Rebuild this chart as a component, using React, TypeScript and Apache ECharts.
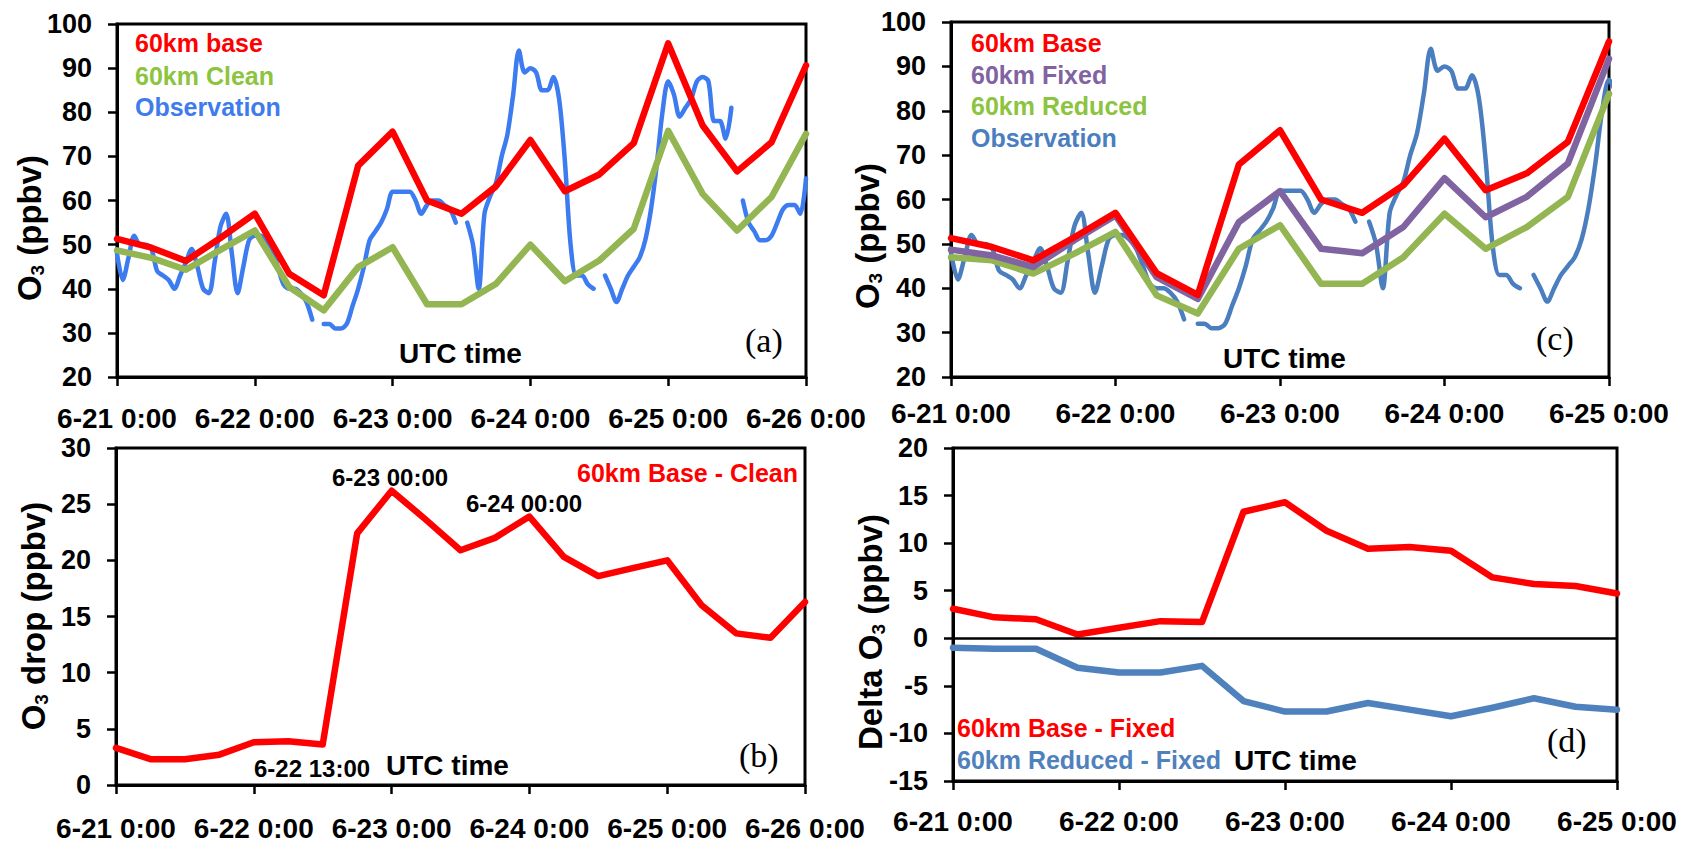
import React, { useEffect, useRef } from "react";
import * as echarts from "echarts";

const FONT = "'Liberation Sans', Arial, Helvetica, sans-serif";
const SERIF = "'Liberation Serif', 'Times New Roman', serif";

// x positions (hours after 6-21 0:00)
const hoursAB = [0, 6, 12, 18, 24, 30, 36, 42, 48, 54, 60, 66, 72, 78, 84, 90, 96, 102, 108, 114, 120];
const hoursCD = [0, 6, 12, 18, 24, 30, 36, 42, 48, 54, 60, 66, 72, 78, 84, 90, 96];
const tickLabelsAB = ["6-21 0:00", "6-22 0:00", "6-23 0:00", "6-24 0:00", "6-25 0:00", "6-26 0:00"];
const tickLabelsCD = ["6-21 0:00", "6-22 0:00", "6-23 0:00", "6-24 0:00", "6-25 0:00"];

// panel (a)
const base60 = [51.3, 49.3, 46.3, 51.5, 57.0, 43.4, 38.5, 67.9, 75.6, 60.0, 57.0, 63.2, 73.7, 62.1, 65.9, 73.0, 95.6, 77.0, 66.6, 73.2, 90.6];
const clean60 = [48.7, 47.0, 44.3, 48.8, 53.2, 40.4, 35.1, 44.9, 49.4, 36.5, 36.5, 41.1, 50.0, 41.7, 46.4, 53.6, 75.8, 61.5, 53.2, 60.8, 75.1];
// hourly observation from 6-21 0:00 (null = missing)
const observation: (number | null)[] = [
  48, 42, 47, 52, 50, 50, 49, 44, 43, 42, 40, 43, 46, 49, 45, 40, 39, 46, 54, 57, 48, 39, 45, 51,
  52, 52, 51, 49, 45, 41, 40, 40, 39, 37, 33, null, 32, 32, 31, 31, 32, 36, 40, 45, 51, 53, 55, 58,
  62, 62, 62, 62, 60, 57, 59, 60, 60, 59, 58, 55, null, 55, 50, 40, 57, 61, 64, 70, 75, 84, 94, 89,
  90, 89, 85, 85, 88, 83, 69, 50, 43, 43, 41, 40, null, 43, 40, 37, 40, 43, 45, 47, 51, 58, 68, 80,
  87, 84, 79, 81, 83, 87, 88, 87, 78, 78, 74, 81, null, 60, 55, 53, 51, 51, 52, 55, 58, 59, 59, 57,
  65,
];
// panel (b)
const dropBaseClean = [3.3, 2.3, 2.3, 2.7, 3.8, 3.9, 3.6, 22.4, 26.2, 23.6, 20.9, 22.0, 23.9, 20.3, 18.6, 19.3, 20.0, 16.0, 13.5, 13.1, 16.3];
// panel (c)
const baseC = [51.3, 49.3, 46.3, 51.5, 57.0, 43.4, 38.5, 67.9, 75.6, 60.0, 57.0, 63.2, 73.7, 62.1, 65.9, 73.0, 95.6];
const fixed60 = [48.7, 47.4, 44.8, 50.8, 56.4, 42.5, 37.6, 54.9, 61.9, 48.9, 47.9, 53.8, 64.8, 56.0, 60.6, 68.1, 91.7];
const reduced60 = [47.0, 46.3, 43.3, 47.8, 52.7, 38.4, 34.3, 48.9, 54.2, 41.0, 41.0, 47.0, 56.8, 48.9, 53.8, 60.6, 83.8];
// panel (d)
const deltaBaseFixed = [3.1, 2.2, 2.0, 0.4, 1.1, 1.8, 1.7, 13.3, 14.3, 11.3, 9.4, 9.6, 9.2, 6.4, 5.7, 5.5, 4.7];
const deltaReducedFixed = [-1.0, -1.1, -1.1, -3.1, -3.6, -3.6, -2.9, -6.6, -7.7, -7.7, -6.8, -7.5, -8.2, -7.3, -6.3, -7.2, -7.5];

const RED = "#FF0000";
const GREEN = "#93B552";
const PURPLE = "#8064A2";
const BLUE_A = "#3C7BF0";
const BLUE_C = "#4A7EBF";
const MW = 6.5;
const OW = 4.5;

const pairs = (h: number[], v: number[]) => h.map((x, i) => [x, v[i]]);
const obsPairs = observation.map((v, i) => [i, v === null ? "-" : v]);

const xAx = (gridIndex: number, max: number, labels: string[], margin: number) => ({
  gridIndex,
  type: "value",
  min: 0,
  max,
  interval: 24,
  axisLine: { show: true, onZero: false, lineStyle: { color: "#000", width: 3 } },
  axisTick: { show: true, inside: false, length: 9, lineStyle: { color: "#000", width: 2.5 } },
  axisLabel: {
    color: "#000",
    fontSize: 28,
    fontWeight: "bold",
    fontFamily: FONT,
    margin,
    formatter: (v: number) => labels[Math.round(v / 24)] ?? "",
  },
  splitLine: { show: false },
});

const yAx = (gridIndex: number, min: number, max: number, interval: number) => ({
  gridIndex,
  type: "value",
  min,
  max,
  interval,
  axisLine: { show: true, onZero: false, lineStyle: { color: "#000", width: 3 } },
  axisTick: { show: true, inside: false, length: 9, lineStyle: { color: "#000", width: 2.5 } },
  axisLabel: { color: "#000", fontSize: 27, fontWeight: "bold", fontFamily: FONT, margin: 25 },
  splitLine: { show: false },
});

const line = (
  name: string,
  xi: number,
  data: any[],
  color: string,
  width: number,
  extra: any = {}
) => ({
  name,
  type: "line",
  xAxisIndex: xi,
  yAxisIndex: xi,
  data,
  symbol: "none",
  showSymbol: false,
  connectNulls: false,
  lineStyle: { color, width, cap: "round", join: "round" },
  itemStyle: { color },
  ...extra,
});

const txt = (
  text: string,
  x: number,
  y: number,
  color: string,
  size: number,
  align: string = "left",
  family: string = FONT,
  weight: string = "bold"
) => ({
  type: "text",
  x,
  y,
  z: 100,
  style: {
    text,
    fill: color,
    fontSize: size,
    fontWeight: weight,
    fontFamily: family,
    align,
    textAlign: align,
    verticalAlign: "middle",
    textVerticalAlign: "middle",
  },
});

const yTitle = (text: string, x: number, y: number) => ({
  type: "text",
  x,
  y,
  rotation: Math.PI / 2,
  z: 100,
  style: {
    text,
    fill: "#000",
    fontSize: 33,
    fontWeight: "bold",
    fontFamily: FONT,
    align: "center",
    textAlign: "center",
    verticalAlign: "middle",
    textVerticalAlign: "middle",
    rich: {
      s: { fontSize: 19, fontWeight: "bold", fontFamily: FONT, fill: "#000", padding: [16, 0, 0, 0] },
    },
  },
});

export default function App() {
  const ref = useRef<HTMLDivElement>(null);
  useEffect(() => {
    if (!ref.current) return;
    const chart = echarts.init(ref.current, null, { renderer: "svg" });
    const grid = (left: number, top: number, width: number, height: number) => ({
      left,
      top,
      width,
      height,
      show: true,
      borderColor: "#000",
      borderWidth: 3,
      backgroundColor: "transparent",
    });
    chart.setOption({
      animation: false,
      backgroundColor: "#fff",
      grid: [grid(117, 24, 689, 353), grid(116, 448, 689, 337), grid(951, 22, 658, 355), grid(953, 448, 664, 333)],
      xAxis: [
        xAx(0, 120, tickLabelsAB, 27),
        xAx(1, 120, tickLabelsAB, 29),
        xAx(2, 96, tickLabelsCD, 22),
        xAx(3, 96, tickLabelsCD, 26),
      ],
      yAxis: [yAx(0, 20, 100, 10), yAx(1, 0, 30, 5), yAx(2, 20, 100, 10), yAx(3, -15, 20, 5)],
      series: [
        line("Observation", 0, obsPairs, BLUE_A, OW, { smooth: 0.3 }),
        line("60km Clean", 0, pairs(hoursAB, clean60), GREEN, MW),
        line("60km base", 0, pairs(hoursAB, base60), RED, MW),
        line("60km Base - Clean", 1, pairs(hoursAB, dropBaseClean), RED, MW),
        line("Observation ", 2, obsPairs, BLUE_C, OW, { smooth: 0.3 }),
        line("60km Reduced", 2, pairs(hoursCD, reduced60), GREEN, MW),
        line("60km Fixed", 2, pairs(hoursCD, fixed60), PURPLE, MW),
        line("60km Base", 2, pairs(hoursCD, baseC), RED, MW),
        line("60km Base - Fixed", 3, pairs(hoursCD, deltaBaseFixed), RED, MW, {
          markLine: {
            silent: true,
            symbol: "none",
            label: { show: false },
            lineStyle: { color: "#000", width: 2.5, type: "solid" },
            data: [{ yAxis: 0 }],
          },
        }),
        line("60km Reduced - Fixed", 3, pairs(hoursCD, deltaReducedFixed), "#4F81BD", MW),
      ],
      graphic: [
        // axis titles
        yTitle("O{s|3} (ppbv)", 29, 228),
        yTitle("O{s|3} drop (ppbv)", 33, 616),
        yTitle("O{s|3} (ppbv)", 867, 236),
        yTitle("Delta O{s|3} (ppbv)", 870, 632),
        // (a)
        txt("60km base", 135, 43, RED, 25),
        txt("60km Clean", 135, 76, "#8CC43F", 25),
        txt("Observation", 135, 107, "#3F7CEB", 25),
        txt("UTC time", 399, 353, "#000", 28),
        txt("(a)", 745, 340, "#000", 34, "left", SERIF, "normal"),
        // (c)
        txt("60km Base", 971, 43, RED, 25),
        txt("60km Fixed", 971, 75, PURPLE, 25),
        txt("60km Reduced", 971, 106, "#8CC43F", 25),
        txt("Observation", 971, 138, "#4A7EBF", 25),
        txt("UTC time", 1223, 358, "#000", 28),
        txt("(c)", 1536, 338, "#000", 34, "left", SERIF, "normal"),
        // (b)
        txt("60km Base - Clean", 798, 473, RED, 25, "right"),
        txt("6-23 00:00", 332, 477, "#000", 24),
        txt("6-24 00:00", 466, 503, "#000", 24),
        txt("6-22 13:00", 254, 768, "#000", 24),
        txt("UTC time", 386, 765, "#000", 28),
        txt("(b)", 739, 755, "#000", 34, "left", SERIF, "normal"),
        // (d)
        txt("60km Base - Fixed", 957, 728, RED, 25),
        txt("60km Reduced - Fixed", 957, 760, "#4F81BD", 25),
        txt("UTC time", 1234, 760, "#000", 28),
        txt("(d)", 1547, 740, "#000", 34, "left", SERIF, "normal"),
      ],
    });
    return () => chart.dispose();
  }, []);
  return (
    <div
      ref={ref}
      style={{ position: "fixed", left: 0, top: 0, width: 1682, height: 842, background: "#fff" }}
    />
  );
}
